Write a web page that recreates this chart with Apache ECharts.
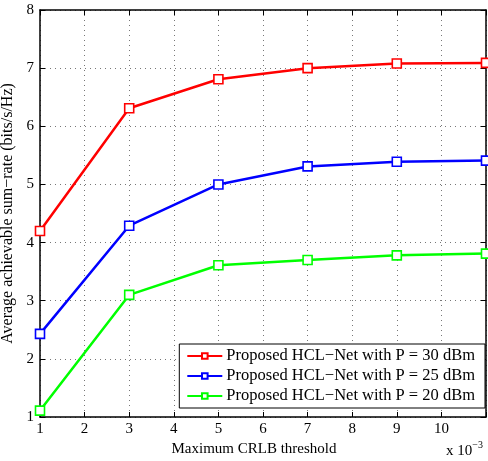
<!DOCTYPE html>
<html><head><meta charset="utf-8">
<script src="https://cdn.jsdelivr.net/npm/echarts@6/dist/echarts.min.js"></script>
<style>html,body{margin:0;padding:0;background:#fff}#c{width:488px;height:461px}</style>
</head><body><div id="c"></div>
<script>
const xValues = [1, 3, 5, 7, 9, 11];
const seriesNames = ['Proposed HCL\u2212Net with P = 30 dBm','Proposed HCL\u2212Net with P = 25 dBm','Proposed HCL\u2212Net with P = 20 dBm'];
const p30 = [4.2, 6.31, 6.81, 7.0, 7.08, 7.09];
const p25 = [2.43, 4.29, 5.0, 5.31, 5.39, 5.41];
const p20 = [1.11, 3.1, 3.61, 3.7, 3.78, 3.81];
const colors = ['#ff0000', '#0000ff', '#00ff00'];
const xTicks = [1,2,3,4,5,6,7,8,9,10];

const font = 'Liberation Serif';
const chart = echarts.init(document.getElementById('c'));
const gridLine = {show:true, lineStyle:{color:'#777', type:[1,4], width:1}};
const mk = (name, data, color) => ({
  name, type:'line', data: xValues.map((x,i)=>[x,data[i]]),
  symbol:'rect', symbolSize:9, showSymbol:true,
  itemStyle:{color:'#fff', borderColor:color, borderWidth:1.6},
  lineStyle:{color, width:2.5}, color,
  z: 3
});
chart.setOption({
  animation:false,
  grid:{left:40, top:10, right:2, bottom:44, show:false, containLabel:false, outerBoundsMode:'none'},
  xAxis:[{
    type:'value', min:1, max:11, interval:1,
    axisLine:{show:true, lineStyle:{color:'#000', width:1.5}},
    axisTick:{show:true, inside:true, length:5, lineStyle:{color:'#000'}},
    axisLabel:{color:'#000', fontFamily:font, fontSize:15, margin:5,
      formatter: v => xTicks.includes(v) ? String(v) : ''},
    splitLine:gridLine,
    name:'Maximum CRLB threshold', nameLocation:'middle', nameGap:23,
    nameTextStyle:{color:'#000', fontFamily:font, fontSize:15, padding:[0,18,0,0]}
  },{
    type:'value', position:'top', min:1, max:11, interval:1,
    axisLine:{show:true, lineStyle:{color:'#000', width:1.5}},
    axisTick:{show:true, inside:true, length:5, lineStyle:{color:'#000'}},
    axisLabel:{show:false}, splitLine:{show:false}
  }],
  yAxis:[{
    type:'value', min:1, max:8, interval:1,
    axisLine:{show:true, lineStyle:{color:'#000', width:1.5}},
    axisTick:{show:true, inside:true, length:5, lineStyle:{color:'#000'}},
    axisLabel:{color:'#000', fontFamily:font, fontSize:15, margin:6},
    splitLine:gridLine,
    name:'Average achievable sum\u2212rate (bits/s/Hz)', nameLocation:'middle', nameGap:19,
    nameTextStyle:{color:'#000', fontFamily:font, fontSize:16}
  },{
    type:'value', position:'right', min:1, max:8, interval:1,
    axisLine:{show:true, lineStyle:{color:'#000', width:1.5}},
    axisTick:{show:true, inside:true, length:5, lineStyle:{color:'#000'}},
    axisLabel:{show:false}, splitLine:{show:false}
  }],
  legend:{
    orient:'vertical', right:3, bottom:53,
    data: seriesNames,
    backgroundColor:'#fff', borderColor:'#000', borderWidth:1, borderRadius:0,
    padding:[3,10,3,7], itemGap:2, itemWidth:35, itemHeight:7,
    textStyle:{color:'#000', fontFamily:font, fontSize:16.5, lineHeight:18, padding:[0,0,0,-1]}
  },
  graphic:[{
    type:'text', left:446, top:440,
    style:{text:'x 10{s|\u22123}', fill:'#000', font:'15px '+font,
      rich:{s:{fontSize:10, fontFamily:font, fill:'#000', verticalAlign:'top', padding:[0,0,12,0]}}}
  }],
  series:[mk(seriesNames[0],p30,colors[0]), mk(seriesNames[1],p25,colors[1]), mk(seriesNames[2],p20,colors[2])]
});
</script></body></html>
